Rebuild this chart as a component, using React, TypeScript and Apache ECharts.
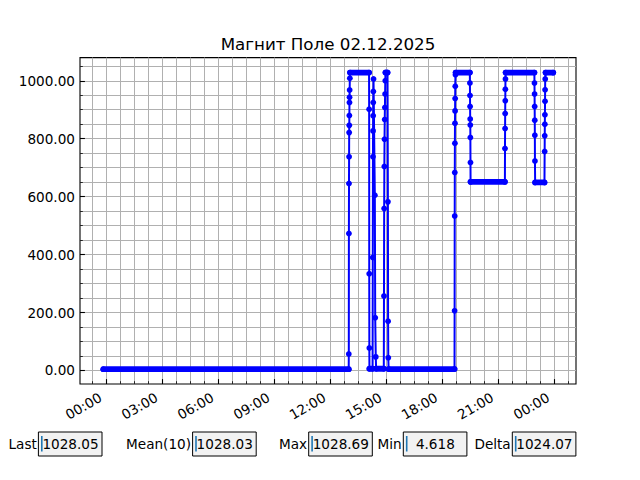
import React, { useEffect, useRef } from "react";
import * as echarts from "echarts";

const TITLE = "Магнит Поле 02.12.2025";

// Sustained readings (dense samples): [fromHour, toHour, value]; hours since 02.12.2025 00:00
const runs: [number, number, number][] = [
  [-0.18, 12.97, 4.62],
  [13.04, 14.06, 1028.2],
  [14.08, 14.25, 6],
  [14.44, 14.85, 6],
  [14.94, 15.05, 1028.3],
  [15.11, 18.64, 5],
  [18.7, 19.46, 1028.1],
  [19.5, 21.34, 651],
  [21.38, 22.92, 1028.2],
  [22.96, 23.46, 649],
  [23.52, 23.93, 1028.05],
];

// Individual transition readings: [hour, value]
const rise1: [number, number][] = [
  [12.975, 57], [12.98, 473], [12.985, 645], [12.99, 738], [12.995, 821], [13.0, 846],
  [13.005, 880], [13.01, 925], [13.015, 943], [13.02, 968], [13.03, 1009],
];
const drop1: [number, number][] = [[14.065, 902], [14.07, 334], [14.075, 78]];
const spike2: [number, number][] = [
  [14.26, 390], [14.27, 738], [14.275, 827], [14.28, 879], [14.285, 925], [14.29, 963],
  [14.3, 1006], [14.37, 605], [14.39, 182], [14.42, 47],
];
const spike3: [number, number][] = [
  [14.86, 257], [14.87, 559], [14.88, 704], [14.89, 798], [14.9, 866], [14.91, 908],
  [14.92, 954], [14.93, 1000], [15.07, 582], [15.08, 170], [15.09, 44],
];
const rise4: [number, number][] = [
  [18.645, 206], [18.65, 533], [18.655, 683], [18.66, 784], [18.665, 853], [18.67, 896],
  [18.675, 939], [18.68, 981], [18.69, 1021],
];
const drop4: [number, number][] = [
  [19.465, 992], [19.47, 949], [19.475, 911], [19.48, 868], [19.485, 847], [19.49, 804], [19.495, 718],
];
const rise5: [number, number][] = [
  [21.345, 766], [21.35, 835], [21.355, 887], [21.36, 931], [21.365, 971], [21.37, 1006],
];
const drop5: [number, number][] = [
  [22.925, 992], [22.93, 954], [22.935, 911], [22.94, 864], [22.945, 812], [22.95, 723],
];
const rise6: [number, number][] = [
  [23.47, 756], [23.475, 810], [23.48, 850], [23.485, 883], [23.49, 929], [23.495, 969], [23.5, 1006],
];

const xMajorHours = [0, 3, 6, 9, 12, 15, 18, 21, 24];
const xTickLabels = ["00:00", "03:00", "06:00", "09:00", "12:00", "15:00", "18:00", "21:00", "00:00"];
const yMajor = [0, 200, 400, 600, 800, 1000];

const readoutLabels = ["Last", "Mean(10)", "Max", "Min", "Delta"];
const readoutValues = ["1028.05", "1028.03", "1028.69", "4.618", "1024.07"];

const X_MIN = -1.43;
const X_MAX = 25.15;
const Y_MIN = -46.6;
const Y_MAX = 1079.9;

const FONT = "DejaVu Sans";
const BLUE = "#0000ff";

export default function App() {
  const ref = useRef<HTMLDivElement>(null);

  useEffect(() => {
    if (!ref.current) return;
    const chart = echarts.init(ref.current, undefined, { renderer: "svg" });

    const xMinor: number[] = [];
    for (let k = -1; k * 0.75 <= X_MAX; k++) xMinor.push(k * 0.75);
    const yMinor: number[] = [];
    for (let k = 0; k * 50 <= Y_MAX; k++) yMinor.push(k * 50);

    const mainData: [number, number][] = [];
    runs.forEach((r) => {
      mainData.push([r[0], r[2]]);
      mainData.push([r[1], r[2]]);
    });
    [rise1, drop1, spike2, spike3, rise4, drop4, rise5, drop5, rise6].forEach((a) =>
      a.forEach((p) => mainData.push(p))
    );
    mainData.sort((a, b) => a[0] - b[0]);

    const bandSeries = runs.map((r) => ({
      type: "line",
      data: [
        [r[0], r[2]],
        [r[1], r[2]],
      ],
      symbol: "none",
      silent: true,
      lineStyle: { color: BLUE, width: 5.8, cap: "round" },
      z: 3,
    }));

    const boxX = [38.4, 192.6, 308.7, 403.3, 512.3];
    const boxW = 63.6;
    const graphics: any[] = [
      {
        type: "text",
        x: 328,
        y: 43.5,
        style: {
          text: TITLE,
          font: `16.7px "${FONT}"`,
          fill: "#000",
          align: "center",
          textAlign: "center",
          verticalAlign: "middle",
          textVerticalAlign: "middle",
        },
      },
    ];
    readoutLabels.forEach((lab, i) => {
      const x = boxX[i];
      const val = readoutValues[i];
      graphics.push({
        type: "rect",
        shape: { x: x, y: 432, width: boxW, height: 24 },
        style: { fill: "#f2f2f2", stroke: "#000", lineWidth: 1 },
      });
      graphics.push({
        type: "line",
        shape: { x1: x + 3.4, y1: 436, x2: x + 3.4, y2: 451.5 },
        style: { stroke: "#1f77b4", lineWidth: 1.6 },
      });
      graphics.push({
        type: "text",
        x: x + 4 + Math.max(0, 7 - val.length) * 4.3,
        y: 444,
        style: {
          text: val,
          font: `13.6px "${FONT}"`,
          fill: "#000",
          align: "left",
          textAlign: "left",
          verticalAlign: "middle",
          textVerticalAlign: "middle",
        },
      });
      graphics.push({
        type: "text",
        x: x - 1.6,
        y: 444,
        style: {
          text: lab,
          font: `13.6px "${FONT}"`,
          fill: "#000",
          align: "right",
          textAlign: "right",
          verticalAlign: "middle",
          textVerticalAlign: "middle",
        },
      });
    });

    const labelStyle = { fontFamily: FONT, fontSize: 13.6, color: "#000" };

    chart.setOption({
      animation: false,
      backgroundColor: "#fff",
      grid: {
        left: 80,
        right: 64,
        top: 57.6,
        bottom: 96,
        show: true,
        borderColor: "#000",
        borderWidth: 1.1,
        backgroundColor: "transparent",
        containLabel: false,
      },
      xAxis: [
        {
          type: "value",
          position: "bottom",
          min: X_MIN,
          max: X_MAX,
          axisLine: { show: false, onZero: false },
          axisLabel: { show: false },
          axisTick: { show: true, inside: true, length: 2.8, customValues: xMinor, lineStyle: { color: "#000", width: 0.8 } },
          splitLine: { show: true, lineStyle: { color: "#b0b0b0", width: 1 } },
        },
        {
          type: "value",
          position: "bottom",
          min: X_MIN,
          max: X_MAX,
          axisLine: { show: false, onZero: false },
          splitLine: { show: false },
          axisTick: { show: true, inside: true, length: 4.9, customValues: xMajorHours, lineStyle: { color: "#000", width: 1.1 } },
          axisLabel: {
            show: true,
            customValues: xMajorHours,
            rotate: 30,
            margin: 8.6,
            padding: [0, 7.2, 0, 0],
            ...labelStyle,
            formatter: (v: number) => xTickLabels[xMajorHours.indexOf(Math.round(v))] ?? "",
          },
        },
      ],
      yAxis: [
        {
          type: "value",
          position: "left",
          min: Y_MIN,
          max: Y_MAX,
          axisLine: { show: false, onZero: false },
          axisLabel: { show: false },
          axisTick: { show: true, inside: true, length: 2.8, customValues: yMinor, lineStyle: { color: "#000", width: 0.8 } },
          splitLine: { show: true, lineStyle: { color: "#b0b0b0", width: 1 } },
        },
        {
          type: "value",
          position: "left",
          min: Y_MIN,
          max: Y_MAX,
          axisLine: { show: false, onZero: false },
          splitLine: { show: false },
          axisTick: { show: true, inside: true, length: 4.9, customValues: yMajor, lineStyle: { color: "#000", width: 1.1 } },
          axisLabel: {
            show: true,
            customValues: yMajor,
            margin: 5,
            ...labelStyle,
            formatter: (v: number) => v.toFixed(2),
          },
        },
      ],
      series: [
        ...bandSeries,
        {
          type: "line",
          data: mainData,
          symbol: "circle",
          symbolSize: 5.8,
          showSymbol: true,
          silent: true,
          itemStyle: { color: BLUE, borderWidth: 0 },
          lineStyle: { color: BLUE, width: 2 },
          z: 4,
        },
      ],
      graphic: graphics,
    });

    return () => chart.dispose();
  }, []);

  return (
    <div
      ref={ref}
      style={{ position: "fixed", left: 0, top: 0, width: 640, height: 480, background: "#fff" }}
    />
  );
}
